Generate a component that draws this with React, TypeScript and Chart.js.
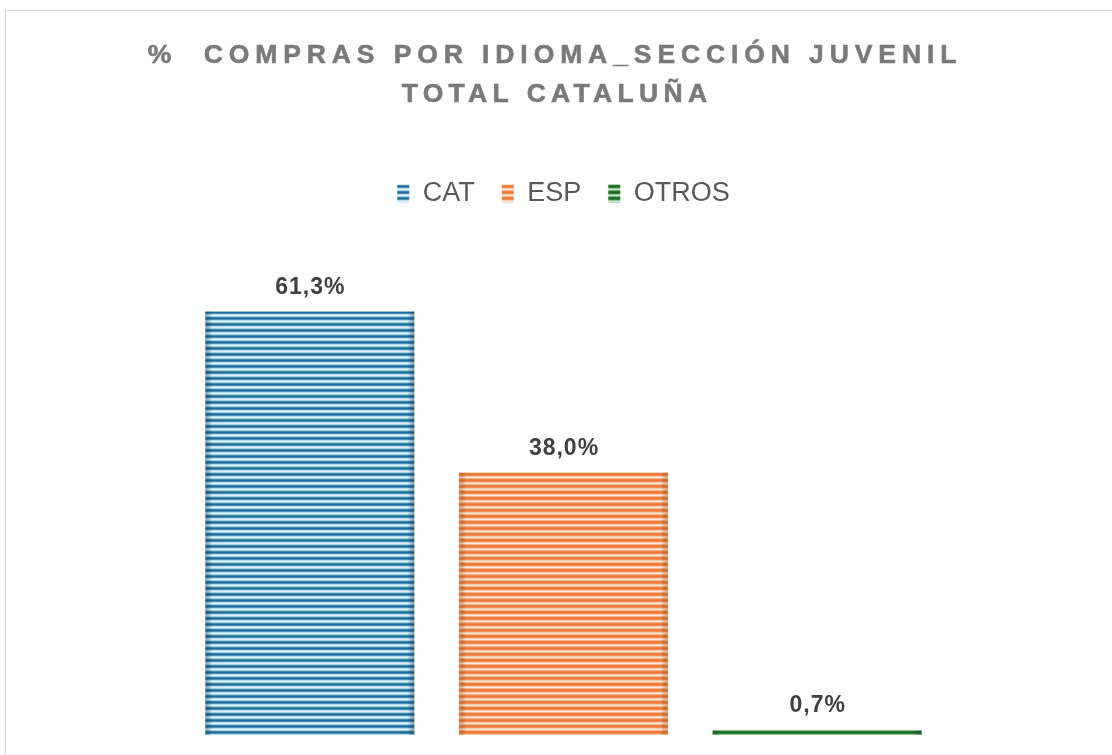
import React, { useEffect, useRef } from "react";
import { Chart, registerables } from "chart.js";

Chart.register(...registerables);

const categories = ["CAT", "ESP", "OTROS"];
const values = [61.3, 38.0, 0.7];
const titleLines = ["%  COMPRAS POR IDIOMA_SECCIÓN JUVENIL", "TOTAL CATALUÑA"];
const stripeColors = [
  ["#1f6a94", "#4a90b8", "#b5dbef", "#e3f2fa", "#a2cfe6", "#3d86b0"],
  ["#ec7630", "#f09258", "#f9c7a6", "#fee9dc", "#f7b58b", "#ee8444"],
  ["#1b6b25", "#2f8038", "#8cc592", "#cfe8d1", "#6aae72", "#25752f"],
];
const edgeColors = ["rgba(20,80,115,0.45)", "rgba(225,105,40,0.45)", "rgba(20,100,35,0.4)"];

function makePattern(colors: string[]): CanvasPattern | string {
  const c = document.createElement("canvas");
  c.width = 4;
  c.height = colors.length;
  const cx = c.getContext("2d");
  if (!cx) return colors[0];
  colors.forEach((col, i) => {
    cx.fillStyle = col;
    cx.fillRect(0, i, 4, 1);
  });
  const p = cx.createPattern(c, "repeat");
  return p || colors[0];
}

const fmt = (v: number) => v.toFixed(1).replace(".", ",") + "%";

const titlePlugin = {
  id: "spacedTitle",
  afterDraw(chart: any) {
    const ctx = chart.ctx as CanvasRenderingContext2D;
    ctx.save();
    ctx.font = "bold 26.5px 'Liberation Sans', Arial, sans-serif";
    ctx.fillStyle = "#7a7a7a";
    ctx.strokeStyle = "#7a7a7a";
    ctx.lineWidth = 0.6;
    ctx.textAlign = "center";
    ctx.textBaseline = "alphabetic";
    (ctx as any).letterSpacing = "5.9px";
    ctx.fillText(titleLines[0], 555, 63);
    ctx.strokeText(titleLines[0], 555, 63);
    (ctx as any).letterSpacing = "5.3px";
    ctx.fillText(titleLines[1], 557, 102);
    ctx.strokeText(titleLines[1], 557, 102);
    ctx.restore();
  },
};

const edgePlugin = {
  id: "barEdges",
  afterDatasetsDraw(chart: any) {
    const ctx = chart.ctx as CanvasRenderingContext2D;
    ctx.save();
    chart.data.datasets.forEach((_ds: any, i: number) => {
      const meta = chart.getDatasetMeta(i);
      meta.data.forEach((el: any) => {
        const { x, y, width, base } = el.getProps(["x", "y", "width", "base"], true);
        const l = x - width / 2;
        const r = x + width / 2;
        const h = base - y;
        const w = Math.min(7, width / 2);
        const gl = ctx.createLinearGradient(l, 0, l + w, 0);
        gl.addColorStop(0, edgeColors[i]);
        gl.addColorStop(1, "rgba(0,0,0,0)");
        ctx.fillStyle = gl;
        ctx.fillRect(l, y, w, h);
        const gr = ctx.createLinearGradient(r, 0, r - w, 0);
        gr.addColorStop(0, edgeColors[i]);
        gr.addColorStop(1, "rgba(0,0,0,0)");
        ctx.fillStyle = gr;
        ctx.fillRect(r - w, y, w, h);
      });
    });
    ctx.restore();
  },
};

const valueLabelPlugin = {
  id: "valueLabels",
  afterDatasetsDraw(chart: any) {
    const ctx = chart.ctx as CanvasRenderingContext2D;
    ctx.save();
    ctx.font = "bold 23px 'Liberation Sans', Arial, sans-serif";
    (ctx as any).letterSpacing = "1px";
    ctx.fillStyle = "#404040";
    ctx.textAlign = "center";
    ctx.textBaseline = "alphabetic";
    chart.data.datasets.forEach((ds: any, i: number) => {
      const meta = chart.getDatasetMeta(i);
      meta.data.forEach((el: any, j: number) => {
        const v = ds.data[j];
        if (v == null) return;
        ctx.fillText(fmt(v), el.x + 0.5, el.y - 18);
      });
    });
    ctx.restore();
  },
};

export default function App() {
  const ref = useRef<HTMLCanvasElement | null>(null);

  useEffect(() => {
    document.body.style.margin = "0";
    document.body.style.overflow = "hidden";
    const canvas = ref.current;
    if (!canvas) return;
    const datasets = categories.map((name, i) => ({
      label: name,
      data: [values[i]],
      backgroundColor: makePattern(stripeColors[i]),
      borderWidth: 0,
      categoryPercentage: 1,
      barPercentage: 0.824,
    }));
    const chart = new Chart(canvas, {
      type: "bar",
      data: { labels: [""], datasets },
      options: {
        responsive: false,
        animation: false,
        layout: { padding: { left: 183, right: 168, top: 153, bottom: 20 } },
        scales: {
          x: { display: false },
          y: { display: false, min: 0, max: 75 },
        },
        plugins: {
          title: { display: false },
          tooltip: { enabled: false },
          legend: {
            display: true,
            position: "top",
            labels: {
              boxWidth: 12,
              boxHeight: 18,
              padding: 27,
              color: "#595959",
              font: { family: "'Liberation Sans', Arial, sans-serif", size: 27 },
            },
          },
        },
      },
      plugins: [titlePlugin, edgePlugin, valueLabelPlugin],
    });
    return () => chart.destroy();
  }, []);

  return (
    <div style={{ position: "relative", width: 1112, height: 755, overflow: "hidden", background: "#fff" }}>
      <div
        style={{
          position: "absolute",
          left: 5,
          top: 10,
          width: 1200,
          height: 900,
          border: "1px solid #d9d9d9",
          boxSizing: "border-box",
        }}
      />
      <canvas ref={ref} width={1112} height={755} style={{ position: "absolute", left: 0, top: 0 }} />
    </div>
  );
}
